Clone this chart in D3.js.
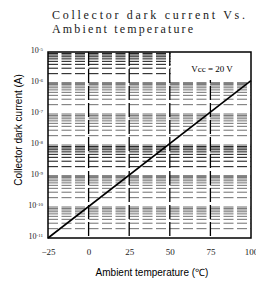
<!DOCTYPE html>
<html>
  <head>
    <meta charset="utf-8">
    <title>Collector dark current Vs. Ambient temperature</title>
    <script src="https://d3js.org/d3.v7.min.js"></script>
    <style>
      body { margin: 0; background: #fff; }
      svg { display: block; }
      .serifa { font-family: 'Liberation Serif', 'Times New Roman', serif; }
      .sans { font-family: 'Liberation Sans', Arial, sans-serif; }
    </style>
  </head>
  <body>
    <div id="grafico"></div>
    <script>
      // dados
      const temperaturas = [-25, 100]
      const correnteEscura = [1e-11, 1.2e-6]
      const ticksX = [-25, 0, 25, 50, 75, 100]
      const expoentesY = [-5, -6, -7, -8, -9, -10, -11]
      const gradeX = [0, 25, 50, 75]
      const titulo = ['Collector dark current Vs.', 'Ambient temperature']
      const legenda = 'Vcc = 20 V'

      const largura = 256, altura = 285
      const margem = { esquerda: 48, direita: 5, topo: 52, base: 47 }

      const svg = d3.select('#grafico').append('svg')
        .attr('width', largura)
        .attr('height', altura)

      const x = d3.scaleLinear()
        .domain([-25, 100])
        .range([margem.esquerda, largura - margem.direita])

      const y = d3.scaleLog()
        .domain([1e-11, 1e-5])
        .range([altura - margem.base, margem.topo])

      // titulo
      svg.selectAll('.titulo')
        .data(titulo)
        .join('text')
          .attr('class', 'serifa')
          .attr('x', 52)
          .attr('y', (d, i) => 19 + i * 14)
          .attr('textLength', (d, i) => i == 0 ? 193 : 141)
          .attr('lengthAdjust', 'spacing')
          .style('font-size', '12px')
          .style('font-weight', '300')
          .attr('fill', '#222')
          .text(d => d)

      // grade horizontal (2..9 em cada decada)
      const decadasCinza = [-7, -8, -10, -11]
      const menores = []
      for (let e = -11; e < -5; e++) {
        for (let k = 1; k <= 9; k++) {
          if (k == 1 && e == -11) continue
          menores.push(k * Math.pow(10, e))
        }
      }
      svg.append('g')
        .selectAll('line')
        .data(menores)
        .join('line')
          .attr('x1', x(-25))
          .attr('x2', x(100))
          .attr('y1', d => y(d))
          .attr('y2', d => y(d))
          .attr('stroke', d => decadasCinza.includes(Math.floor(Math.log10(d) + 1e-9)) ? '#707070' : '#111')
          .attr('stroke-width', 1)
          .attr('stroke-dasharray', '10,3.5')

      // grade vertical
      svg.append('g')
        .selectAll('line')
        .data(gradeX)
        .join('line')
          .attr('x1', d => x(d))
          .attr('x2', d => x(d))
          .attr('y1', y(1e-5))
          .attr('y2', y(1e-11))
          .attr('stroke', '#000')
          .attr('stroke-width', 1.3)
          .attr('stroke-dasharray', '14,3')

      // caixa da legenda
      svg.append('rect')
        .attr('x', x(50) + 1)
        .attr('y', y(1e-5))
        .attr('width', x(100) - x(50) - 1)
        .attr('height', 28)
        .attr('fill', '#fff')

      svg.append('text')
        .attr('class', 'serifa')
        .attr('x', 212)
        .attr('y', 72)
        .attr('text-anchor', 'middle')
        .style('font-size', '9px')
        .text(legenda)

      // curva
      const pontos = temperaturas.map((t, i) => [t, correnteEscura[i]])
      svg.append('path')
        .datum(pontos)
        .attr('fill', 'none')
        .attr('stroke', '#000')
        .attr('stroke-width', 1.6)
        .attr('d', d3.line().x(d => x(d[0])).y(d => y(d[1])))

      // moldura
      svg.append('rect')
        .attr('x', x(-25))
        .attr('y', y(1e-5))
        .attr('width', x(100) - x(-25))
        .attr('height', y(1e-11) - y(1e-5))
        .attr('fill', 'none')
        .attr('stroke', '#000')
        .attr('stroke-width', 1.5)

      // eixo x
      const eixoX = svg.append('g')
        .attr('transform', `translate(0, ${y(1e-11)})`)
        .call(d3.axisBottom(x).tickValues(ticksX).tickSize(0).tickPadding(11))
      eixoX.select('.domain').remove()
      eixoX.selectAll('text')
        .attr('class', 'serifa')
        .style('font-size', '9px')
        .attr('fill', '#222')

      // eixo y
      const eixoY = svg.append('g')
        .attr('transform', `translate(${x(-25)}, 0)`)
        .call(d3.axisLeft(y)
          .tickValues(expoentesY.map(e => Math.pow(10, e)))
          .tickSize(0)
          .tickPadding(5)
          .tickFormat(() => ''))
      eixoY.select('.domain').remove()
      eixoY.selectAll('.tick text')
        .attr('class', 'serifa')
        .style('font-size', '8px')
        .attr('fill', '#222')
        .attr('dy', '0.1em')
        .each(function(d) {
          const t = d3.select(this)
          t.append('tspan').text('10')
          t.append('tspan')
            .attr('dy', '-0.5em')
            .style('font-size', '5px')
            .text(Math.round(Math.log10(d)))
        })

      // titulos dos eixos
      svg.append('text')
        .attr('class', 'sans')
        .attr('x', 152)
        .attr('y', 276)
        .attr('text-anchor', 'middle')
        .style('font-size', '10px')
        .text('Ambient temperature (\u2103)')

      svg.append('text')
        .attr('class', 'sans')
        .attr('transform', 'translate(22, 130) rotate(-90)')
        .attr('text-anchor', 'middle')
        .style('font-size', '10px')
        .text('Collector dark current (A)')
    </script>
  </body>
</html>
